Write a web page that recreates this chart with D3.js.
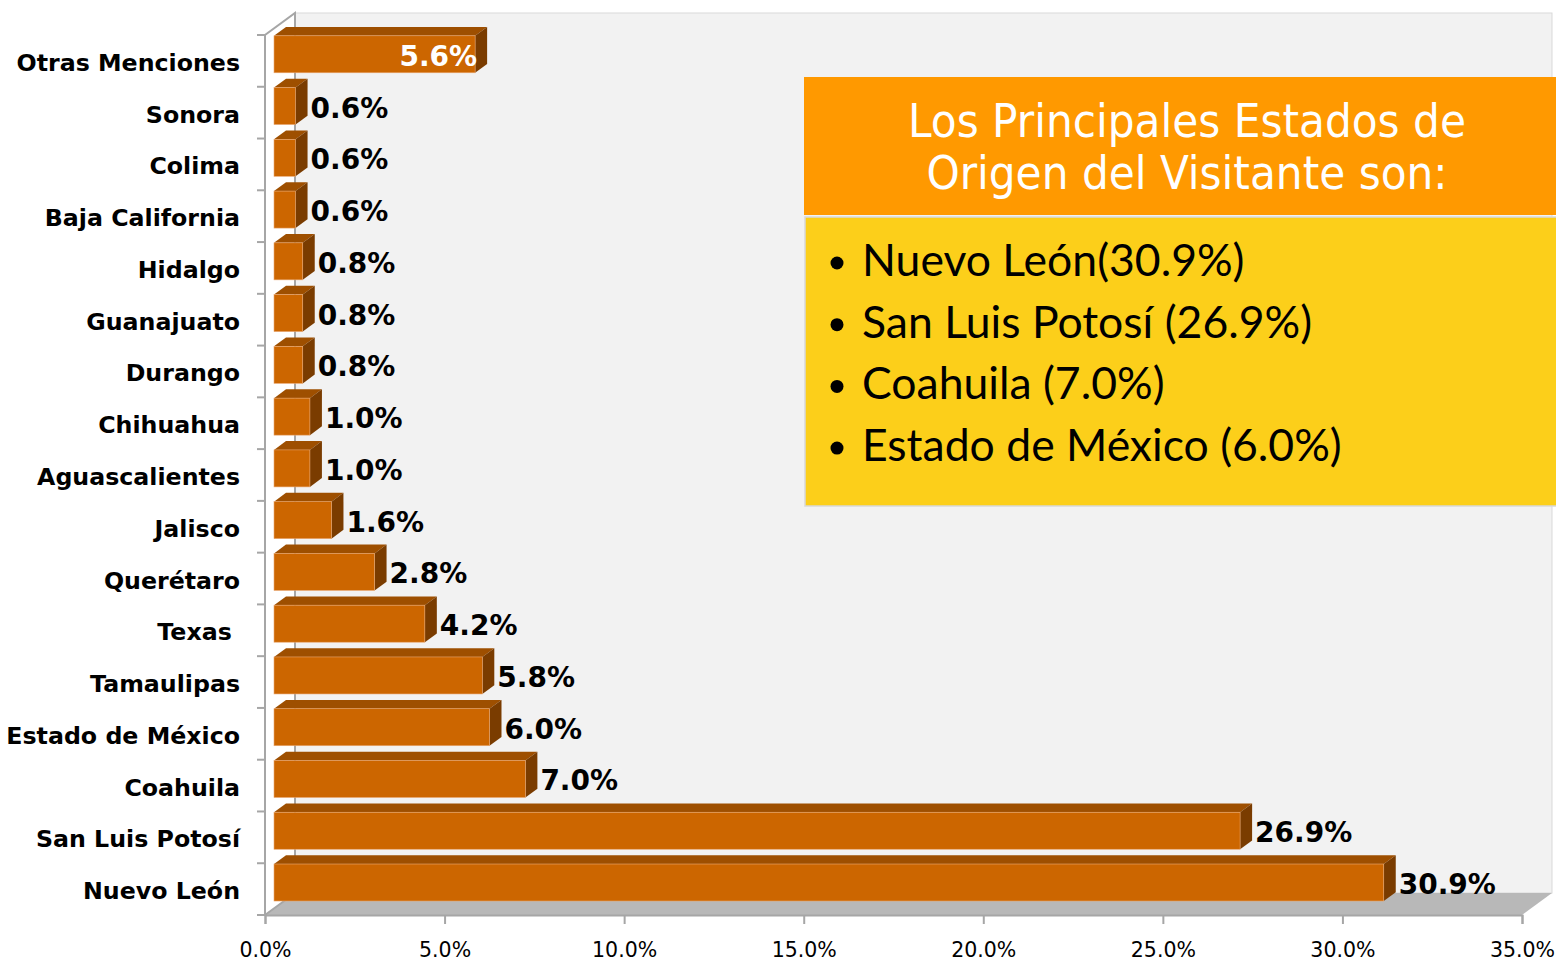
<!DOCTYPE html>
<html>
<head>
<meta charset="utf-8">
<script src="https://cdn.jsdelivr.net/npm/d3@7"></script>
<style>
  body { margin: 0; background: #ffffff; }
  svg { display: block; }
</style>
</head>
<body>
<svg id="chart" width="1556" height="962"></svg>
<script>
// categories top to bottom, as in the picture
var categories = ["Otras Menciones", "Sonora", "Colima", "Baja California", "Hidalgo",
    "Guanajuato", "Durango", "Chihuahua", "Aguascalientes", "Jalisco", "Querétaro",
    "Texas ", "Tamaulipas", "Estado de México", "Coahuila", "San Luis Potosí", "Nuevo León"];
var values = [5.6, 0.6, 0.6, 0.6, 0.8, 0.8, 0.8, 1.0, 1.0, 1.6, 2.8, 4.2, 5.8, 6.0, 7.0, 26.9, 30.9];
var xTicks = [0, 5, 10, 15, 20, 25, 30, 35];

var boxTitle = ["Los Principales Estados de", "Origen del Visitante son:"];
var boxItems = ["Nuevo León(30.9%)", "San Luis Potosí (26.9%)", "Coahuila (7.0%)", "Estado de México (6.0%)"];

var svg = d3.select("#chart");

// depth of the 3d box
var depthX = 30, depthY = -22;
var front = 0.3, back = 0.7;

var xScale = d3.scaleLinear().domain([0, 35]).range([265, 1522]);
var yScale = d3.scaleBand().domain(categories).range([35, 915]).paddingInner(0.285).paddingOuter(0.1425);

var x0 = xScale(0), x1 = xScale(35);
var yTop = 35, yBot = 915;

// back wall
svg.append("rect")
    .attr("x", x0 + depthX).attr("y", yTop + depthY)
    .attr("width", x1 - x0).attr("height", yBot - yTop)
    .style("fill", "#f2f2f2")
    .style("stroke", "#d9d9d9").style("stroke-width", 1);

// floor
svg.append("path")
    .attr("d", "M" + x0 + "," + yBot + "L" + x1 + "," + yBot +
        "L" + (x1 + depthX) + "," + (yBot + depthY) + "L" + (x0 + depthX) + "," + (yBot + depthY) + "Z")
    .style("fill", "#b8b8b8");

// left wall edges
svg.append("path")
    .attr("d", "M" + x0 + "," + yBot + "L" + x0 + "," + yTop + "L" + (x0 + depthX) + "," + (yTop + depthY) +
        "L" + (x0 + depthX) + "," + (yBot + depthY) + "L" + x0 + "," + yBot)
    .style("fill", "none").style("stroke", "#a6a6a6").style("stroke-width", 2);

// category tick marks
var tickYs = categories.map(function(c) { return yScale(c) - yScale.step() * yScale.paddingInner() / 2; });
tickYs.push(yBot);
svg.selectAll(".ytick").data(tickYs).enter().append("line")
    .attr("x1", x0 - 8).attr("x2", x0)
    .attr("y1", function(d) { return d; }).attr("y2", function(d) { return d; })
    .style("stroke", "#a6a6a6").style("stroke-width", 2);

// x axis
var xAxis = svg.append("g")
    .attr("transform", "translate(0," + yBot + ")")
    .call(d3.axisBottom(xScale).tickValues(xTicks).tickSize(9).tickPadding(18)
        .tickFormat(function(d) { return d.toFixed(1) + "%"; }));
xAxis.select(".domain").style("stroke", "#a6a6a6").style("stroke-width", 2);
xAxis.selectAll(".tick line").style("stroke", "#a6a6a6").style("stroke-width", 2);
xAxis.selectAll(".tick text")
    .style("font-family", "DejaVu Sans").style("font-size", "20.5px").style("fill", "#000");

// bars
var fx = depthX * front, fy = depthY * front;
var bx = depthX * back, by = depthY * back;

var bars = svg.selectAll(".bar").data(categories).enter().append("g").attr("class", "bar");

bars.each(function(c, i) {
    var g = d3.select(this);
    var xl = xScale(0) + fx;
    var xr = xScale(values[i]) + fx;
    var yt = yScale(c) + fy;
    var h = yScale.bandwidth();
    var dx = bx - fx, dy = by - fy;

    // top face
    g.append("path")
        .attr("d", "M" + xl + "," + yt + "L" + (xl + dx) + "," + (yt + dy) + "L" + (xr + dx) + "," + (yt + dy) +
            "L" + xr + "," + yt + "Z")
        .style("fill", "#9e4f00");
    // side face
    g.append("path")
        .attr("d", "M" + xr + "," + yt + "L" + (xr + dx) + "," + (yt + dy) + "L" + (xr + dx) + "," + (yt + dy + h) +
            "L" + xr + "," + (yt + h) + "Z")
        .style("fill", "#7a3c00");
    // front face
    g.append("rect")
        .attr("x", xl).attr("y", yt).attr("width", xr - xl).attr("height", h)
        .style("fill", "#cc6600")
        .style("stroke", "#eaa872").style("stroke-width", 0.6);

    // value label, the first one sits inside its bar
    var inside = (i === 0);
    g.append("text")
        .attr("x", inside ? xr + 2 : xr + dx + 3)
        .attr("y", yt + h / 2 + 2)
        .attr("dominant-baseline", "central")
        .attr("text-anchor", inside ? "end" : "start")
        .style("font-family", "DejaVu Sans").style("font-weight", "bold").style("font-size", "28px")
        .style("fill", inside ? "#ffffff" : "#000000")
        .text(values[i].toFixed(1) + "%");
});

// category labels
svg.selectAll(".cat").data(categories).enter().append("text")
    .attr("x", 240)
    .attr("y", function(c) { return yScale(c) + yScale.bandwidth() / 2 + 2; })
    .attr("dominant-baseline", "central")
    .attr("text-anchor", "end")
    .style("white-space", "pre")
    .style("font-family", "DejaVu Sans").style("font-weight", "bold").style("font-size", "23.7px")
    .style("fill", "#000")
    .text(function(c) { return c; });

// summary box
var box = svg.append("g");
box.append("rect")
    .attr("x", 804).attr("y", 77).attr("width", 760).attr("height", 138)
    .style("fill", "#ff9900");
box.append("rect")
    .attr("x", 805).attr("y", 217).attr("width", 760).attr("height", 289)
    .style("fill", "#fccf1a").style("stroke", "#d9d9d9").style("stroke-width", 1.5);

box.selectAll(".title").data(boxTitle).enter().append("text")
    .attr("x", 1187)
    .attr("y", function(d, i) { return 137 + i * 52; })
    .attr("text-anchor", "middle")
    .style("font-family", "DejaVu Sans").style("font-stretch", "condensed").style("font-size", "47px")
    .style("fill", "#ffffff")
    .text(function(d) { return d; });

box.selectAll(".bullet").data(boxItems).enter().append("circle")
    .attr("cx", 837)
    .attr("cy", function(d, i) { return 276 + i * 61.7 - 13; })
    .attr("r", 6.5)
    .style("fill", "#000");

box.selectAll(".item").data(boxItems).enter().append("text")
    .attr("x", 862)
    .attr("y", function(d, i) { return 276 + i * 61.7; })
    .style("font-family", "Lato").style("font-size", "44.5px")
    .style("fill", "#000")
    .text(function(d) { return d; });
</script>
</body>
</html>
